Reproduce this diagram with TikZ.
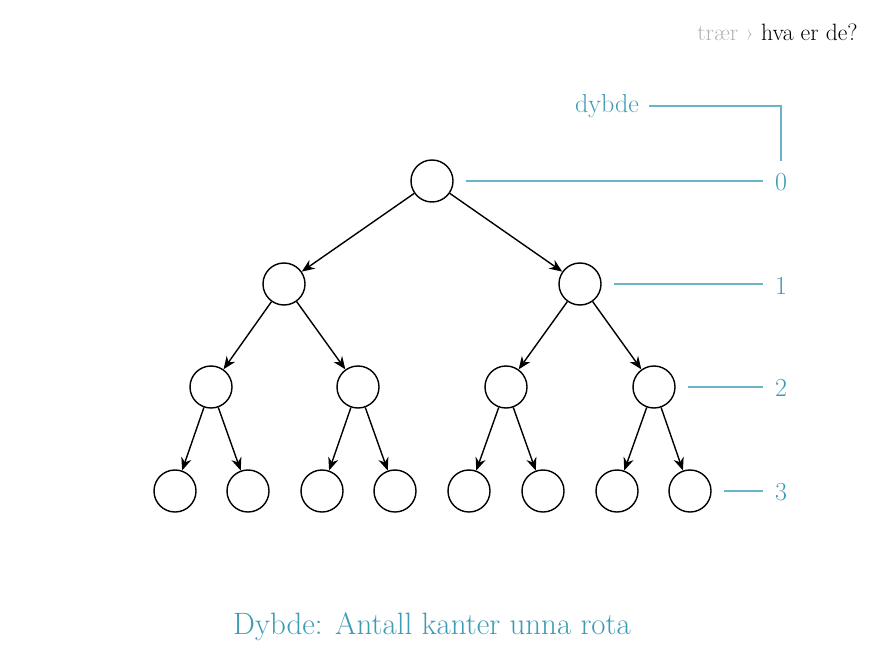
\documentclass[tikz,border=0pt]{standalone}
\usepackage{xcolor}
\usepackage{tikz}
\usetikzlibrary{
    arrows.meta,
    positioning
}

\definecolor{dybdeteal}{RGB}{62,155,180}
\definecolor{dybdeline}{RGB}{105,180,200}

\begin{document}
\begin{tikzpicture}[
    x=0.025cm, y=-0.025cm,
    vertex/.style={
        draw,
        circle,
        line width=1pt,
        minimum size=1.05cm,
        inner sep=0pt
    },
    edge/.style={
        -{Stealth[length=3.2mm, width=2.6mm]},
        line width=1pt
    },
    depth/.style={
        draw=dybdeline,
        line width=0.8pt
    },
    depthlabel/.style={
        text=dybdeteal,
        inner sep=0pt,
        font=\fontsize{18.5}{22}\selectfont
    }
]

\useasboundingbox (0,0) rectangle (895,663);

% header
\node[anchor=east, inner sep=0pt, font=\fontsize{16.8}{20}\selectfont] (header)
at (858,32) {{\color{black!30}trær \guilsinglright}\ hva er de?};

% tree
\node[vertex] (root) at (432,181) {};

\node[vertex] (l) at (284,284) {};
\node[vertex] (r) at (580,284) {};

\node[vertex] (ll) at (211,387) {};
\node[vertex] (lr) at (358,387) {};
\node[vertex] (rl) at (506,387) {};
\node[vertex] (rr) at (654,387) {};

\node[vertex] (lll) at (175,491) {};
\node[vertex] (llr) at (248,491) {};
\node[vertex] (lrl) at (322,491) {};
\node[vertex] (lrr) at (395,491) {};
\node[vertex] (rll) at (469,491) {};
\node[vertex] (rlr) at (543,491) {};
\node[vertex] (rrl) at (617,491) {};
\node[vertex] (rrr) at (690,491) {};

\draw[edge] (root) -- (l);
\draw[edge] (root) -- (r);
\draw[edge] (l) -- (ll);
\draw[edge] (l) -- (lr);
\draw[edge] (r) -- (rl);
\draw[edge] (r) -- (rr);
\draw[edge] (ll) -- (lll);
\draw[edge] (ll) -- (llr);
\draw[edge] (lr) -- (lrl);
\draw[edge] (lr) -- (lrr);
\draw[edge] (rl) -- (rll);
\draw[edge] (rl) -- (rlr);
\draw[edge] (rr) -- (rrl);
\draw[edge] (rr) -- (rrr);

% depth labels
\node[depthlabel] (d0) at (781,182) {0};
\node[depthlabel] (d1) at (781,286) {1};
\node[depthlabel] (d2) at (781,388) {2};
\node[depthlabel] (d3) at (781,492) {3};
\node[depthlabel] (dybde) at (607,106) {dybde};

\draw[depth] ([xshift=0.3cm]root.east) -- ([xshift=-0.3cm]root.east -| d0.west);
\draw[depth] ([xshift=0.3cm]r.east) -- ([xshift=-0.3cm]r.east -| d1.west);
\draw[depth] ([xshift=0.3cm]rr.east) -- ([xshift=-0.3cm]rr.east -| d2.west);
\draw[depth] ([xshift=0.3cm]rrr.east) -- ([xshift=-0.3cm]rrr.east -| d3.west);
\draw[depth] ([xshift=0.25cm]dybde.east) -| ([yshift=0.3cm]d0.north);

\node[text=dybdeteal, font=\fontsize{22}{26}\selectfont] (caption)
at (432,627) {Dybde: Antall kanter unna rota};

\end{tikzpicture}
\end{document}
